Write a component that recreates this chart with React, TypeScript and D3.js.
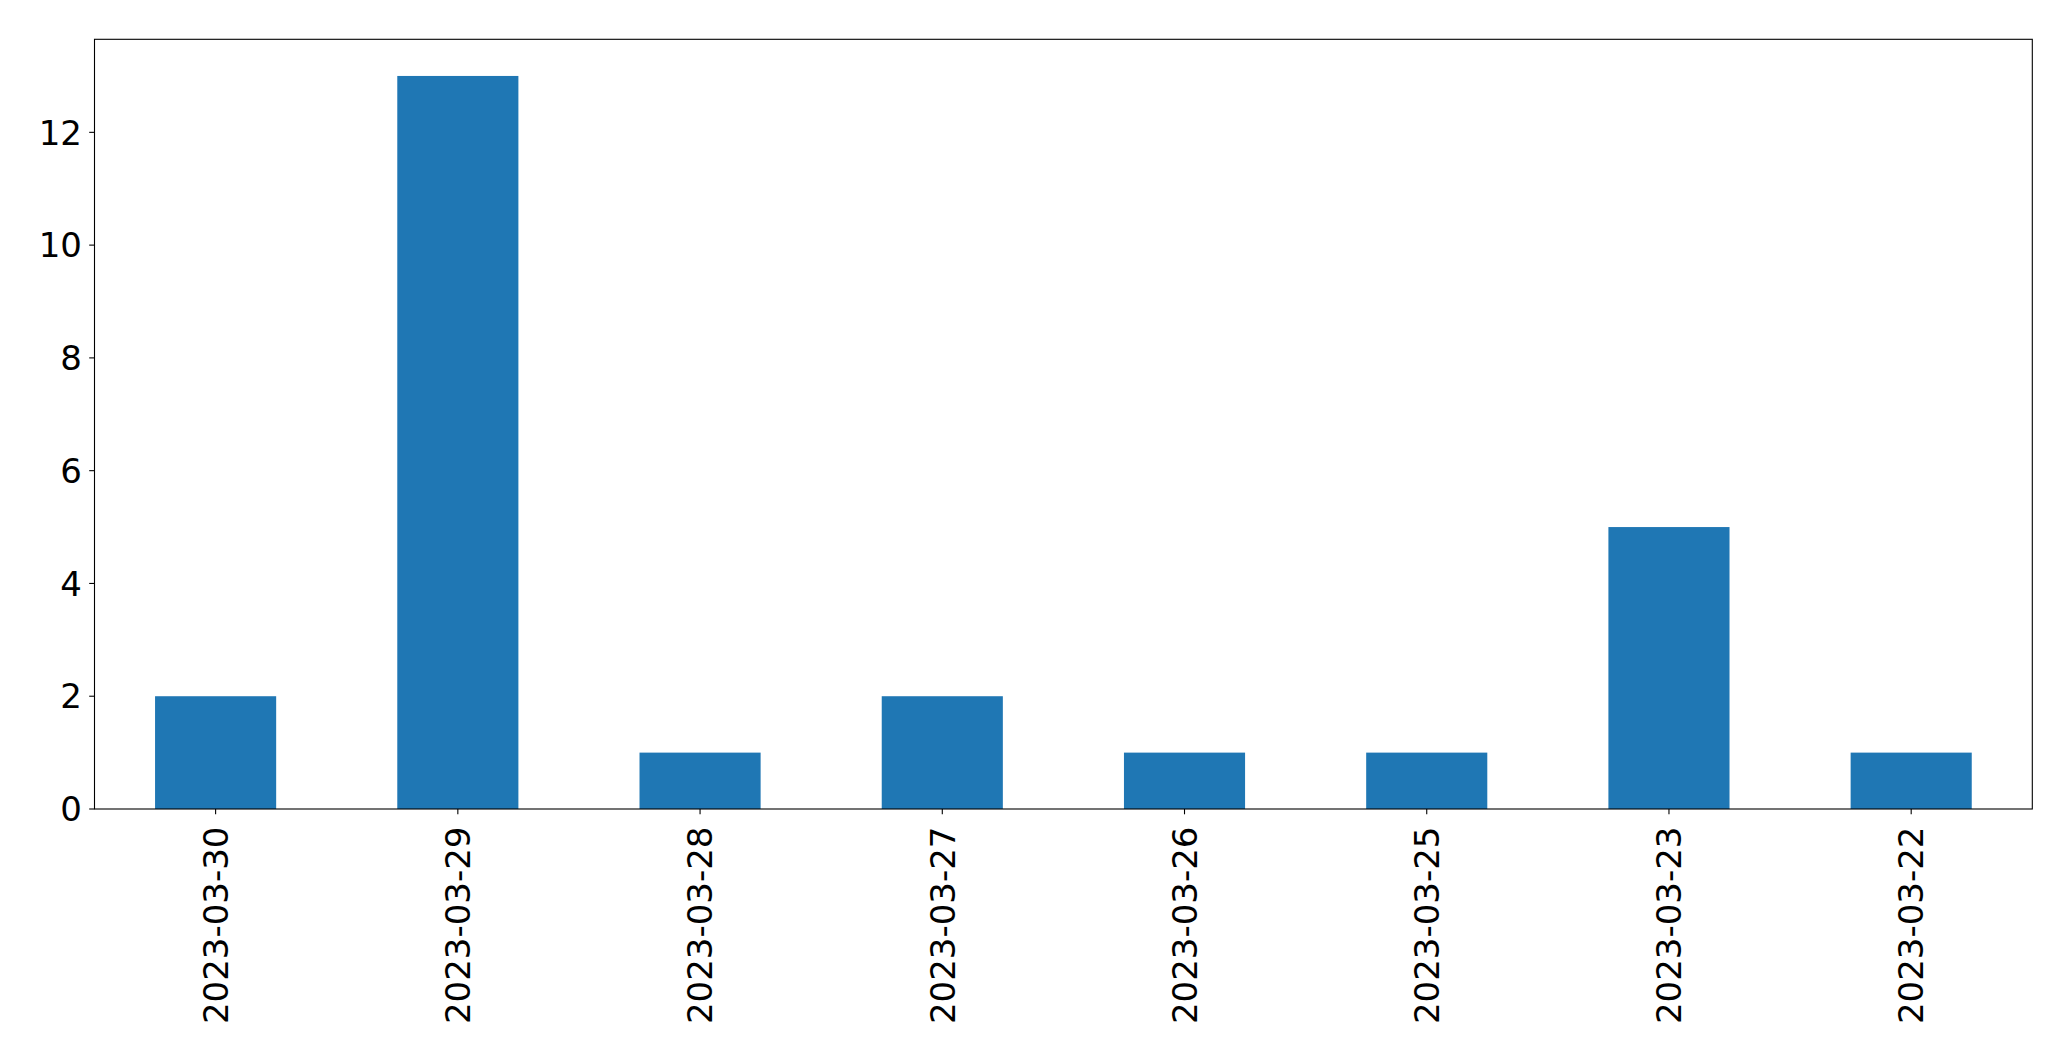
import React from "react";
import * as d3 from "d3";

const categories = ["2023-03-30", "2023-03-29", "2023-03-28", "2023-03-27", "2023-03-26", "2023-03-25", "2023-03-23", "2023-03-22"];
const values = [2, 13, 1, 2, 1, 1, 5, 1];
const yTicks = [0, 2, 4, 6, 8, 10, 12];

const W = 2071;
const H = 1061;
const left = 94.5;
const right = 2032.3;
const top = 39.3;
const bottom = 809;
const FONT = "DejaVu Sans, sans-serif";

export default function App() {
  const x = d3.scaleLinear().domain([-0.5, categories.length - 0.5]).range([left, right]);
  const yMax = d3.max(values)! * 1.05;
  const y = d3.scaleLinear().domain([0, yMax]).range([bottom, top]);
  const barW = x(0.5) - x(0);
  return (
    <svg width={W} height={H} style={{ position: "absolute", left: 0, top: 0, background: "#fff" }}>
      <rect x={0} y={0} width={W} height={H} fill="#fff" />
      {values.map((v, i) => (
        <rect key={i} x={x(i) - barW / 2} y={y(v)} width={barW} height={y(0) - y(v)} fill="#1f77b4" />
      ))}
      <rect x={left} y={top} width={right - left} height={bottom - top} fill="none" stroke="#000" strokeWidth={1.1} />
      {yTicks.map((t) => (
        <g key={t}>
          <line x1={left - 5.3} x2={left} y1={y(t)} y2={y(t)} stroke="#000" strokeWidth={1.1} />
          <text x={left - 12.5} y={y(t)} dy="0.36em" textAnchor="end" fontFamily={FONT} fontSize={34} fill="#000">
            {t}
          </text>
        </g>
      ))}
      {categories.map((c, i) => (
        <g key={c}>
          <line x1={x(i)} x2={x(i)} y1={bottom} y2={bottom + 5.3} stroke="#000" strokeWidth={1.1} />
          <text
            transform={`translate(${x(i)},${bottom + 17.5}) rotate(-90)`}
            dy="0.36em"
            textAnchor="end"
            fontFamily={FONT}
            fontSize={34}
            fill="#000"
          >
            {c}
          </text>
        </g>
      ))}
    </svg>
  );
}
